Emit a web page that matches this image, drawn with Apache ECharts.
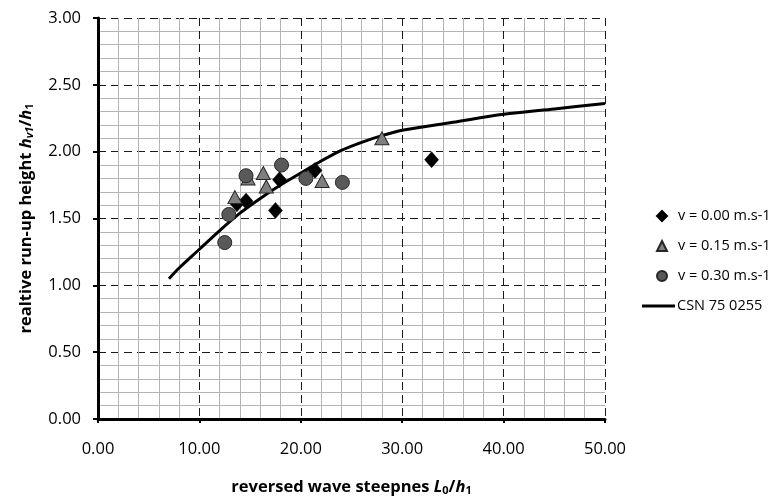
<!DOCTYPE HTML>
<html>
<head>
<meta http-equiv="Content-Type" content="text/html; charset=utf-8" />
<title>run-up height</title>
<style type="text/css">
	html, body { margin: 0; padding: 0; background: #fff; }
	#chart { width: 781px; height: 503px; }
</style>
</head>
<body>
<div id="chart"></div>
<script type="text/javascript" src="https://cdn.jsdelivr.net/npm/echarts@6/dist/echarts.min.js"></script>
<script type="text/javascript">
var v000X = [13.7, 14.6, 17.5, 17.9, 21.4, 32.9];
var v000Y = [1.61, 1.63, 1.56, 1.79, 1.86, 1.94];
var v015X = [13.5, 14.8, 16.3, 16.6, 22.1, 28.0];
var v015Y = [1.66, 1.80, 1.84, 1.74, 1.78, 2.10];
var v030X = [12.5, 12.9, 14.6, 18.1, 20.5, 24.1];
var v030Y = [1.32, 1.53, 1.82, 1.90, 1.80, 1.77];
// CSN 75 0255 curve
var csnX = [7.0, 8, 10, 12, 14, 16, 18, 20, 22, 24, 26, 28, 30, 35, 40, 45, 50];
var csnY = [1.05, 1.13, 1.27, 1.41, 1.54, 1.65, 1.75, 1.84, 1.93, 2.01, 2.07, 2.12, 2.16, 2.22, 2.28, 2.32, 2.36];

function pairs(xs, ys) {
	var out = [];
	for (var i = 0; i < xs.length; i++) out.push([xs[i], ys[i]]);
	return out;
}
function fmt2(v) { return v.toFixed(2); }

var font = 'Open Sans';
var titleRich = {
	b: { fontFamily: font, fontSize: 16.5, fontWeight: 'bold', color: '#000' },
	i: { fontFamily: font, fontSize: 16.5, fontWeight: 'bold', fontStyle: 'italic', color: '#000' },
	s: { fontFamily: font, fontSize: 11, fontWeight: 'bold', color: '#000', verticalAlign: 'bottom', lineHeight: 13, padding: [9, 0, 0, 0] },
	si: { fontFamily: font, fontSize: 11, fontWeight: 'bold', fontStyle: 'italic', color: '#000', verticalAlign: 'bottom', lineHeight: 13, padding: [9, 0, 0, 0] }
};
var majorGrid = { show: true, lineStyle: { color: '#1a1a1a', width: 1, type: [8, 5] } };
var minorGrid = { show: true, lineStyle: { color: '#b4b4b4', width: 1 } };

var chart = echarts.init(document.getElementById('chart'));

var option = {
	animation: false,
	textStyle: { fontFamily: font },
	grid: { left: 98, right: 176, top: 18, bottom: 84 },
	legend: [
		{
			orient: 'vertical',
			left: 651,
			top: 202,
			itemGap: 12,
			itemWidth: 10,
			itemHeight: 10,
			textStyle: { fontFamily: font, fontSize: 14.5, lineHeight: 18, color: '#000', padding: [0, 0, 0, 6] },
			data: ['v = 0.00 m.s-1', 'v = 0.15 m.s-1', 'v = 0.30 m.s-1']
		},
		{
			orient: 'vertical',
			left: 637,
			top: 292,
			itemWidth: 33,
			itemHeight: 3,
			textStyle: { fontFamily: font, fontSize: 14.5, lineHeight: 18, color: '#000', padding: [0, 0, 0, -3] },
			data: [{ name: 'CSN 75 0255', icon: 'rect' }]
		}
	],
	xAxis: {
		type: 'value',
		min: 0, max: 50, interval: 10,
		name: '{b|reversed wave steepnes }{i|L}{s|0}{b|/}{i|h}{s|1}',
		nameLocation: 'middle',
		nameGap: 60,
		nameTextStyle: { rich: titleRich },
		axisLine: { onZero: false, lineStyle: { color: '#000', width: 3 } },
		axisTick: { show: true, length: 4, lineStyle: { color: '#000', width: 2 } },
		axisLabel: { fontFamily: font, fontSize: 16.5, color: '#000', margin: 22, formatter: fmt2 },
		splitLine: majorGrid,
		minorTick: { show: true, splitNumber: 5, length: 0 },
		minorSplitLine: minorGrid
	},
	yAxis: {
		type: 'value',
		min: 0, max: 3, interval: 0.5,
		name: '{b|realtive run-up height }{i|h}{si|v1}{b|/}{i|h}{s|1}',
		nameLocation: 'middle',
		nameRotate: 90,
		nameGap: 63,
		nameTextStyle: { rich: titleRich },
		axisLine: { onZero: false, lineStyle: { color: '#000', width: 3 } },
		axisTick: { show: true, length: 5, lineStyle: { color: '#000', width: 2 } },
		axisLabel: { fontFamily: font, fontSize: 16.5, color: '#000', margin: 17, formatter: fmt2 },
		splitLine: majorGrid,
		minorTick: { show: true, splitNumber: 5, length: 0 },
		minorSplitLine: minorGrid
	},
	series: [
		{
			name: 'CSN 75 0255',
			type: 'line',
			smooth: 0.3,
			symbol: 'none',
			z: 5,
			lineStyle: { color: '#000', width: 3 },
			itemStyle: { color: '#000' },
			data: pairs(csnX, csnY)
		},
		{
			name: 'v = 0.00 m.s-1',
			type: 'scatter',
			symbol: 'diamond',
			symbolSize: [14, 16],
			z: 6,
			itemStyle: { color: '#000', borderColor: '#000', borderWidth: 0.5, opacity: 1 },
			data: pairs(v000X, v000Y)
		},
		{
			name: 'v = 0.15 m.s-1',
			type: 'scatter',
			symbol: 'triangle',
			symbolSize: [14, 13],
			z: 7,
			itemStyle: { color: '#7f7f7f', borderColor: '#262626', borderWidth: 1, opacity: 1 },
			data: pairs(v015X, v015Y)
		},
		{
			name: 'v = 0.30 m.s-1',
			type: 'scatter',
			symbol: 'circle',
			symbolSize: 14,
			z: 8,
			itemStyle: { color: '#595959', borderColor: '#262626', borderWidth: 1, opacity: 1 },
			data: pairs(v030X, v030Y)
		}
	]
};

chart.setOption(option);
</script>
</body>
</html>
